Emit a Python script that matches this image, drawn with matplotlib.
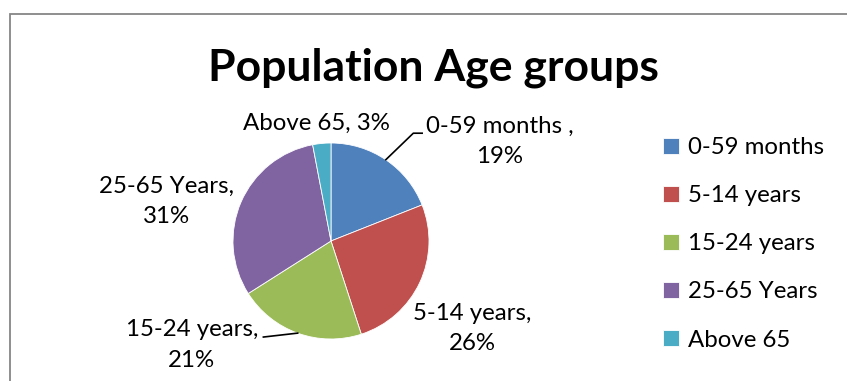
import matplotlib
matplotlib.use("Agg")
import matplotlib.pyplot as plt
from matplotlib.patches import Rectangle

categories = ["0-59 months", "5-14 years", "15-24 years", "25-65 Years", "Above 65"]
values = [19, 26, 21, 31, 3]
label_names = ["0-59 months ,", "5-14 years,", "15-24 years,", "25-65 Years,", "Above 65,"]
colors = ["#4F81BD", "#C0504D", "#9BBB59", "#8064A2", "#4BACC6"]
title = "Population Age groups"

plt.rcParams["font.family"] = ["Lato", "DejaVu Sans"]

W, H = 847, 381
fig = plt.figure(figsize=(W / 100, H / 100), dpi=100)
fig.patch.set_facecolor("white")

# chart-area frame (only top and left edges fall inside the canvas)
fig.patches.append(Rectangle((9.5 / W, -0.2), 1.2, 1.2 - 13.5 / H,
                             transform=fig.transFigure, fill=False,
                             edgecolor="#868686", linewidth=1.3))

# pie axes: centre (331, 241) px, radius 98 px
cx, cy, r = 331, 241, 98
ax = fig.add_axes([(cx - r) / W, 1 - (cy + r) / H, 2 * r / W, 2 * r / H])
wedges, _ = ax.pie(values, colors=colors, startangle=90, counterclock=False,
                   radius=1.0, wedgeprops=dict(edgecolor="white", linewidth=0.6))
ax.set_xlim(-1, 1)
ax.set_ylim(-1, 1)
ax.set_aspect("equal")
ax.axis("off")

lab_fs = 17.3
total = sum(values)
texts = [f"{n}\n{v * 100 // total}%" for n, v in zip(label_names, values)]
texts[4] = f"{label_names[4]} {values[4] * 100 // total}%"
pos = [(1.72, 1.02), (1.44, -0.89), (-1.42, -1.06), (-1.68, 0.40), (-0.15, 1.20)]
for t, (x, y) in zip(texts, pos):
    ax.text(x, y, t, ha="center", va="center", fontsize=lab_fs,
            linespacing=1.55, clip_on=False, color="black")

# leader lines
ax.plot([0.56, 0.84, 0.93], [0.83, 1.10, 1.10], color="black", lw=1.2, clip_on=False)
ax.plot([-0.34, -0.69], [-0.94, -0.98], color="black", lw=1.2, clip_on=False)

fig.text(433 / W, 1 - 81 / H, title, ha="center", va="baseline",
         fontsize=32, fontweight="bold")

leg = fig.legend(wedges, categories, loc="upper left",
                 bbox_to_anchor=(663 / W, 1 - 137 / H), frameon=False,
                 fontsize=lab_fs, handlelength=0.65, handleheight=0.65,
                 handletextpad=0.4, labelspacing=1.13, borderaxespad=0,
                 borderpad=0)

fig.savefig("out.png", dpi=100)
